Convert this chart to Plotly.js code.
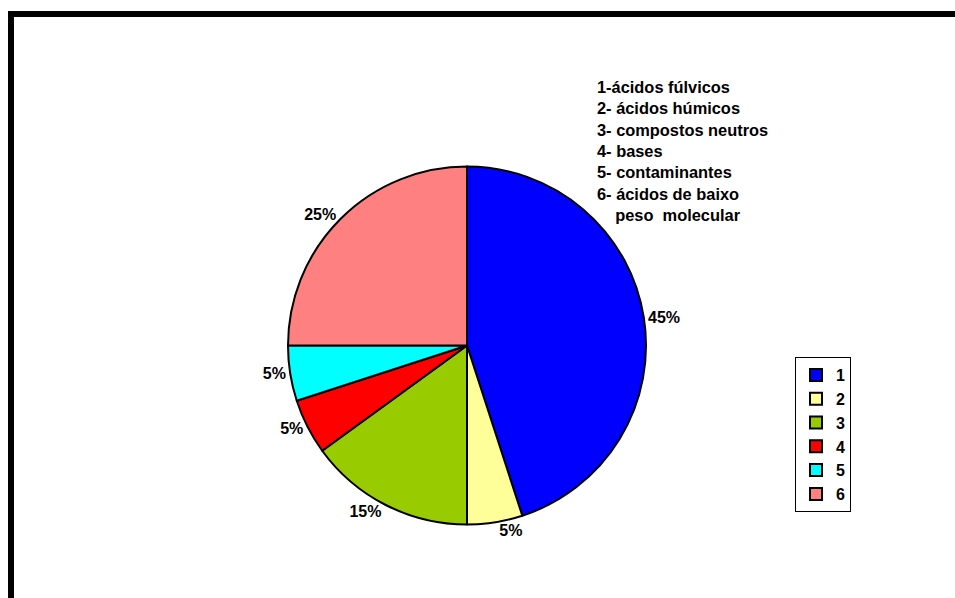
<!DOCTYPE html>
<html>
<head>
<meta charset="utf-8">
<script src="https://cdn.plot.ly/plotly-3.0.1.min.js"></script>
<style>html,body{margin:0;padding:0;background:#fff;}#chart{width:955px;height:598px;}</style>
</head>
<body>
<div id="chart"></div>
<script>
var labels = ["1", "2", "3", "4", "5", "6"];
var values = [45, 5, 15, 5, 5, 25];
var colors = ["#0000FF", "#FFFF99", "#99CC00", "#FF0000", "#00FFFF", "#FF8080"];
var keyLines = [
  "1-ácidos fúlvicos",
  "2- ácidos húmicos",
  "3- compostos neutros",
  "4- bases",
  "5- contaminantes",
  "6- ácidos de baixo",
  "    peso  molecular"
];

var FONT = "Arial, 'Liberation Sans', sans-serif";

var trace = {
  type: "pie",
  labels: labels,
  values: values,
  sort: false,
  direction: "clockwise",
  rotation: 0,
  marker: { colors: colors, line: { color: "#000000", width: 2 } },
  textinfo: "percent",
  textposition: "outside",
  outsidetextfont: { family: FONT, size: 16, color: "#000", weight: "bold" },
  textfont: { family: FONT, size: 16, color: "#000", weight: "bold" },
  domain: { x: [288/955, 646/955], y: [1 - 524.5/598, 1 - 166.5/598] },
  hoverinfo: "none",
  automargin: false
};

var layout = {
  width: 955,
  height: 598,
  margin: { l: 0, r: 0, t: 0, b: 0 },
  paper_bgcolor: "#fff",
  showlegend: true,
  legend: {
    x: 795/955, y: 1 - 357/598, xanchor: "left", yanchor: "top",
    bordercolor: "#000", borderwidth: 1, bgcolor: "#fff",
    font: { family: FONT, size: 16, color: "#000", weight: "bold" },
    traceorder: "normal"
  },
  annotations: [{
    xref: "paper", yref: "paper",
    x: 595/955, y: 1 - 76/598, xanchor: "left", yanchor: "top",
    align: "left", showarrow: false,
    text: keyLines.map(function(s){ return "<b>" + s.replace(/ {2,}/g, function(m){ return m.replace(/ /g, "&nbsp;"); }) + "</b>"; }).join("<br>"),
    font: { family: FONT, size: 16.4, color: "#000" }
  }],
  shapes: [
    { type: "line", xref: "paper", yref: "paper", x0: 11/955, x1: 11/955, y0: 0, y1: 1 - 11/598, line: { color: "#000", width: 6 } },
    { type: "line", xref: "paper", yref: "paper", x0: 8/955, x1: 1, y0: 1 - 14/598, y1: 1 - 14/598, line: { color: "#000", width: 6 } }
  ]
};

Plotly.newPlot("chart", [trace], layout, { displayModeBar: false, staticPlot: true });
</script>
</body>
</html>
